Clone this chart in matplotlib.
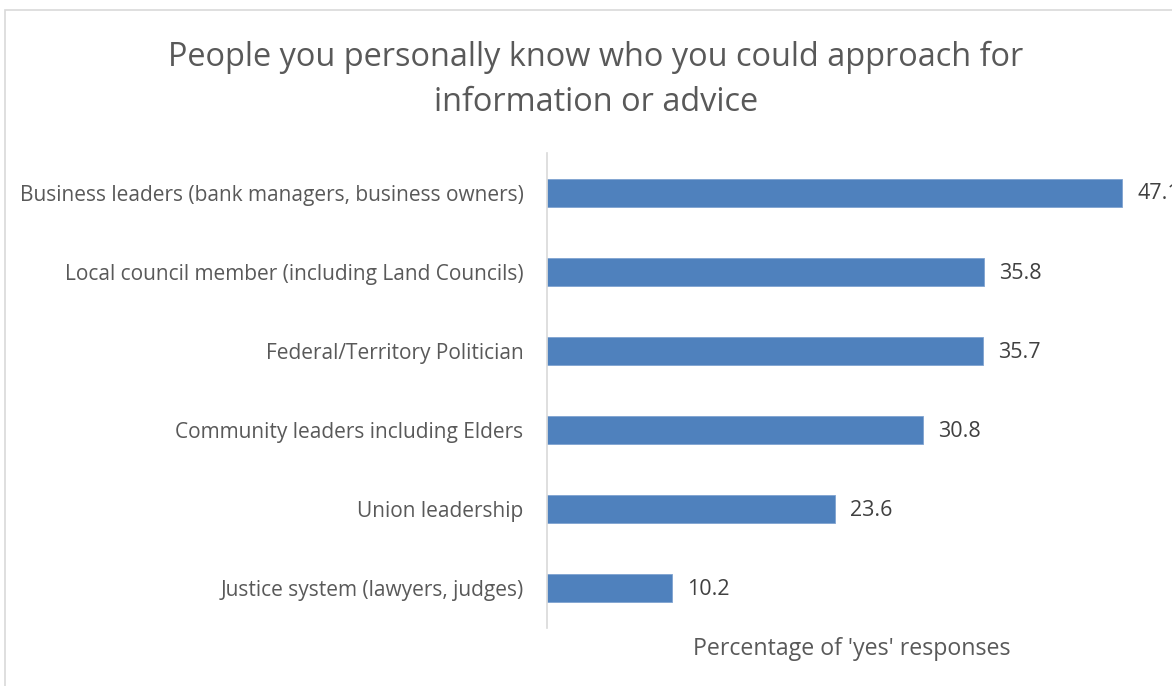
import matplotlib
matplotlib.use("Agg")
import matplotlib.pyplot as plt
from matplotlib.patches import Rectangle

categories = [
    "Business leaders (bank managers, business owners)",
    "Local council member (including Land Councils)",
    "Federal/Territory Politician",
    "Community leaders including Elders",
    "Union leadership",
    "Justice system (lawyers, judges)",
]
values = [47.1, 35.8, 35.7, 30.8, 23.6, 10.2]
value_labels = ["47.1", "35.8", "35.7", "30.8", "23.6", "10.2"]
title = "People you personally know who you could approach for\ninformation or advice"
xlabel = "Percentage of 'yes' responses"

plt.rcParams["font.family"] = ["Open Sans", "DejaVu Sans"]

W, H = 1172, 686
fig = plt.figure(figsize=(W / 100, H / 100), dpi=100)

# outer chart frame (right and bottom edges run off the canvas)
fig.patches.append(Rectangle((5 / W, -0.1), 1.2, 1 - 10 / H + 0.1,
                             transform=fig.transFigure, fill=False,
                             edgecolor="#d9d9d9", linewidth=1.2))

ax_left, ax_right = 547, W
ax_top, ax_bottom = 153, 628
ax = fig.add_axes([ax_left / W, 1 - ax_bottom / H,
                   (ax_right - ax_left) / W, (ax_bottom - ax_top) / H])

n = len(categories)
ypos = list(range(n))
ax.barh(ypos, values, height=0.355, color="#4f81bd", edgecolor="#7fa3d1",
        linewidth=0.6)
ax.set_ylim(n - 0.5, -0.5)
ax.set_xlim(0, (ax_right - ax_left) / 12.21)

ax.set_yticks(ypos)
ax.set_yticklabels(categories, fontsize=15, color="#595959")
ax.tick_params(axis="y", length=0, pad=17)
ax.set_xticks([])
for s in ["top", "right", "bottom"]:
    ax.spines[s].set_visible(False)
ax.spines["left"].set_color("#d9d9d9")
ax.spines["left"].set_linewidth(1.2)

for y, v, lab in zip(ypos, values, value_labels):
    ax.annotate(lab, (v, y), xytext=(11, -1), textcoords="offset points",
                ha="left", va="center", fontsize=15.5, color="#404040",
                annotation_clip=False)

fig.text(596 / W, 1 - 80 / H, title, ha="center", va="center",
         fontsize=23.4, color="#595959", linespacing=1.45)
fig.text(852 / W, 1 - 649 / H, xlabel, ha="center", va="center",
         fontsize=16.7, color="#595959")

fig.savefig("out.png", dpi=100)
